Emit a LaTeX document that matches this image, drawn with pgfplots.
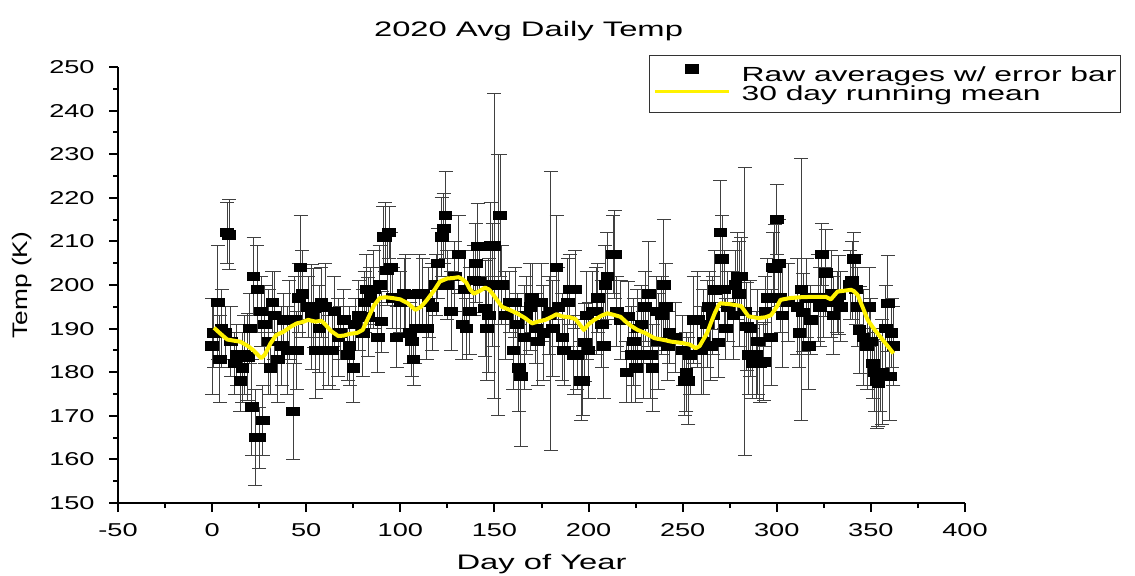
\documentclass[border=0pt]{standalone}
\usepackage{pgfplots}
\pgfplotsset{compat=1.18}
\usepackage{pgfplotstable}
\usepackage{fontspec}
\setmainfont{Liberation Sans}[FakeStretch=1.46]
\newfontfamily\labfont{Liberation Sans}[FakeStretch=1.56]
\newfontfamily\ylabfont{Liberation Sans}[FakeStretch=1.25]

% raw daily averages: day, temp (K), error
\pgfplotstableread[row sep=\\]{
x y e\\
0 186 11\\ 1 189 8\\ 3 196 13\\ 4 183 10\\ 5 190 9\\ 7 189 6\\ 8 212 7\\ 9 211.5 8\\
10 187 8\\ 12 182 7\\ 13 184 7\\ 15 178 7\\ 16 181 8\\ 17 184 9\\ 19 183.5 10\\
20 190 8\\ 21 172 11\\ 22 202 9\\ 23 165 11\\ 24 199 10\\ 25 165 7\\ 26 194 8\\ 27 169 8\\ 28 191 9\\
30 187 12\\ 31 181 6\\ 32 196 7\\ 33 193 10\\ 35 183 10\\ 37 186 9\\ 38 192 6\\
40 185 10\\ 41 192 9\\ 43 171 11\\ 44 192 10\\ 45 185 9\\ 46 197 8\\ 47 204 12\\ 48 198 10\\
51 195 7\\ 53 192.7 12\\ 54 194.7 9\\ 55 185 11\\ 57 190 10\\ 58 196 8\\ 59 185 9\\
60 195 10\\ 62 185 8\\ 64 185 9\\ 65 194 8\\ 67 188 9\\ 68 189 6\\
70 192 7\\ 72 184 6\\ 73 186 9\\ 75 181 8\\ 76 191 6\\ 78 193 8\\
80 189 10\\ 81 196 7\\ 82 199 8\\ 83 192.7 9\\ 84 197 7\\ 86 199 9\\ 88 188 8\\ 89 200 9\\
90 191.6 7\\ 91 211 7\\ 92 211 8\\ 93 203.4 8\\ 94 212 6\\ 95 204 8\\ 96 197 7\\ 98 188 7\\
100 196 7\\ 102 198 8\\ 103 197.9 9\\ 105 189 7\\ 106 187 8\\ 107 183 6\\ 108 190 8\\
110 198 9\\ 112 198 8\\ 114 190 7\\ 115 196 8\\ 117 195 10\\ 119 200 7\\
120 205 8\\ 122 211 9\\ 123 213 8\\ 124 216 10\\ 125 200 8\\ 127 194 9\\ 129 202 8\\
131 207 9\\ 133 191 8\\ 134 199 9\\ 135 190 7\\ 137 194 10\\ 139 201 8\\
140 205 9\\ 141 208.8 10\\ 142 200.8 7\\ 145 194.7 11\\ 146 190 12\\ 147 193 13\\ 148 209 10\\ 149 200 14\\
150 209 35\\ 152 200 30\\ 153 216 14\\ 154 200 9\\ 156 193 10\\ 158 196 7\\
160 185 9\\ 161 196 8\\ 162 191 7\\ 163 181 10\\ 164 179 16\\ 166 188 12\\ 167 193 9\\ 169 195 10\\
170 197 8\\ 172 190 8\\ 173 187 10\\ 175 196 9\\ 176 189 11\\ 179 193 9\\
180 194 32\\ 181 190 11\\ 183 204 12\\ 184 195 9\\ 186 188 10\\ 187 185 8\\ 189 196 10\\
190 199 8\\ 192 184 9\\ 193 199 9\\ 194 184 8\\ 196 178 9\\ 197 178 8\\ 198 186.8 9\\ 199 193 10\\
200 185 11\\ 202 194 9\\ 204 194 10\\ 205 197 8\\ 207 191 10\\ 208 186 12\\ 209 200 9\\
210 202 10\\ 213 207 9\\ 214 207 10\\ 215 194 8\\ 217 192 9\\
220 180 7\\ 221 192.8 8\\ 223 184 11\\ 224 187 10\\ 225 181 8\\ 226 190 9\\ 228 191 9\\ 229 184 10\\
230 195 8\\ 232 198 12\\ 233 184 10\\ 234 181 10\\ 236 194 8\\ 237 187 11\\ 239 193 9\\
240 200 15\\ 241 195 10\\ 242 186 8\\ 243 189 7\\ 246 188 8\\
250 185 8\\ 251 178 8\\ 252 180 9\\ 253 178 10\\ 254 184 9\\ 256 192 10\\ 258 192 11\\
260 185 10\\ 261 187 12\\ 263 191 10\\ 264 195 8\\ 265 186 8\\ 266 193 9\\ 267 198.9 9\\ 269 186.8 8\\
270 212 12\\ 271 206 10\\ 272 199 9\\ 273 190 7\\ 274 195 8\\ 277 193 10\\ 278 200 8\\ 279 202 10\\
280 198 12\\ 281 202 9\\ 283 194 33\\ 284 190.5 10\\ 285 184 9\\ 286 190 11\\ 287 182 8\\ 289 184 10\\
290 187 12\\ 291 182 9\\ 293 182.4 9\\ 294 194 8\\ 295 197 9\\ 297 188 11\\ 298 204 8\\ 299 203.8 10\\
300 215 8\\ 301 205 10\\ 302 197 8\\ 303 193 12\\ 306 196 9\\
311 195 11\\ 312 189 8\\ 313 199 30\\ 314 193.7 9\\ 316 197 9\\ 317 186 10\\ 318 192 8\\
322 197 10\\ 323 195 9\\ 324 207 7\\ 325 196 8\\ 326 202.8 10\\ 329 198 10\\
330 193 9\\ 332 196 7\\ 333 197.7 9\\ 334 195 8\\ 339 200 8\\
340 201 9\\ 341 206 6\\ 342 199 8\\ 343 195 9\\ 344 189.7 10\\ 346 188 11\\ 348 186 10\\ 349 195 9\\
350 187 10\\ 351 182 8\\ 352 180 9\\ 353 178 11\\ 354 177.5 10\\ 355 179 8\\ 356 180 12\\ 358 190 10\\ 359 195.8 11\\
360 179 10\\ 361 189 8\\ 362 186 9\\
}\rawdata

% 30 day running mean
\pgfplotstableread[row sep=\\]{
x y\\
1 190.2\\ 4 189\\ 8 187.5\\ 12 187.2\\ 15 187\\ 19 186\\ 22 185\\ 26 183.2\\ 28 184\\ 31 186.6\\
34 188.5\\ 38 189.3\\ 42 190.5\\ 45 191.2\\ 48 191.5\\ 51 192\\ 55 191.6\\ 58 191.8\\ 60 191\\ 63 189.5\\
67 188.3\\ 70 188.4\\ 73 188.8\\ 77 189\\ 80 189.7\\ 83 192.5\\ 86 195.3\\ 89 197\\ 92 197.2\\ 96 197\\
100 196.7\\ 104 195.8\\ 108 194.3\\ 111 195\\ 114 196.5\\ 118 198.8\\ 121 200.8\\ 125 201.5\\ 128 201.6\\ 131 201.8\\
133 201.3\\ 135 200.6\\ 137 199\\ 139 198\\ 142 198.6\\ 145 199.4\\ 147 199\\ 149 198\\ 151 196.8\\ 154 195\\
158 194.3\\ 162 193.5\\ 166 192.5\\ 170 191.2\\ 173 191.6\\ 177 192\\ 180 192.6\\ 183 193.3\\ 186 192.8\\ 190 192.6\\
193 192.2\\ 195.7 190.7\\ 197.5 189.7\\ 200 191\\ 203 192\\ 207 193\\ 210 193.5\\ 213 193.2\\ 217 192.7\\ 220 191.5\\
223 190.5\\ 226 189.7\\ 230 189\\ 235 187.8\\ 240 187.4\\ 244 187\\ 248 186.8\\ 251 186.6\\ 254 186.3\\ 257 185.5\\
259 186\\ 261 187.5\\ 263 189\\ 265 191.3\\ 267 193.5\\ 269 195.3\\ 270 195.8\\ 275 195.6\\ 281 195.2\\ 283 194\\
285 192.8\\ 288 192.6\\ 290 192.4\\ 294 192.6\\ 297 193.1\\ 300 195\\ 302 196.6\\ 307 197\\ 313 197.2\\ 320 197.3\\
326 197.3\\ 328.7 196.7\\ 330.5 197.6\\ 332.3 198.5\\ 336 198.7\\ 339.4 198.9\\ 341 198.6\\ 343 197.7\\ 346 194.5\\ 348.3 192\\
351 190.3\\ 355 188.1\\ 358 186.5\\ 362 184.3\\
}\meandata

\begin{document}
\begin{tikzpicture}
\begin{axis}[
    set layers,
    scale only axis, width=423.5pt, height=218pt,
    xmin=-50, xmax=400, ymin=150, ymax=250,
    xtick={-50,0,...,400}, ytick={150,160,...,250},
    minor x tick num=1, minor y tick num=1,
    axis x line*=bottom, axis y line*=left,
    axis line style={line width=1pt, -},
    tick align=outside, tick style={line width=1pt, black},
    major tick length=4.5pt, minor tick length=2.5pt,
    /pgf/number format/assume math mode=true,
    tick label style={font=\fontsize{9.3}{10}\selectfont},
    xticklabel style={anchor=base, inner sep=0pt, yshift=-12pt},
    yticklabel style={anchor=east, inner sep=0pt, xshift=-7pt},
    title={2020 Avg Daily Temp},
    title style={at={(axis description cs:0.4847,1.0413)}, anchor=base, inner sep=0pt, font=\labfont\fontsize{10.5}{12}\selectfont},
    xlabel={Day of Year},
    xlabel style={at={(axis description cs:0.5,-0.1514)}, anchor=base, inner sep=0pt, font=\labfont\fontsize{10.5}{12}\selectfont},
    ylabel={Temp (K)},
    ylabel style={at={(axis description cs:-0.1063,0.5)}, anchor=base, inner sep=0pt, font=\ylabfont\fontsize{10.5}{12}\selectfont},
    legend style={at={(axis description cs:0.6269,1)}, anchor=north west, yshift=6pt,
        draw=black!80, line width=0.6pt, inner xsep=2pt, inner ysep=4pt,
        font=\labfont\fontsize{10.2}{12}\selectfont, column sep=5.5pt, row sep=0.6pt,
        nodes={inner sep=0pt, text height=7pt, text depth=2pt}},
    legend cell align=left,
]
\addplot[only marks, mark=square*, mark size=2.1pt,
    mark options={xscale=1.5, fill=black, draw=black},
    legend image code/.code={\fill[black] (15.25pt,1.8pt) rectangle (21.75pt,6.2pt);},
    error bars/.cd, y dir=both, y explicit,
    error bar style={line width=0.5pt, black!75},
    error mark options={rotate=90, mark size=3.5pt, line width=0.5pt, black!75}]
    table[x=x, y=y, y error=e]{\rawdata};
\addlegendentry{Raw averages w/ error bar}
\addplot[yellow, line width=2pt, line join=round, no marks, on layer=axis foreground,
    legend image code/.code={\draw[yellow, line width=1.5pt] (0pt,2pt) -- (37pt,2pt);}]
    table[x=x, y=y]{\meandata};
\addlegendentry{30 day running mean}
\end{axis}
\pgfresetboundingbox
\path[use as bounding box] (-59pt,-36pt) rectangle (508.5pt,251.5pt);
\end{tikzpicture}
\end{document}
